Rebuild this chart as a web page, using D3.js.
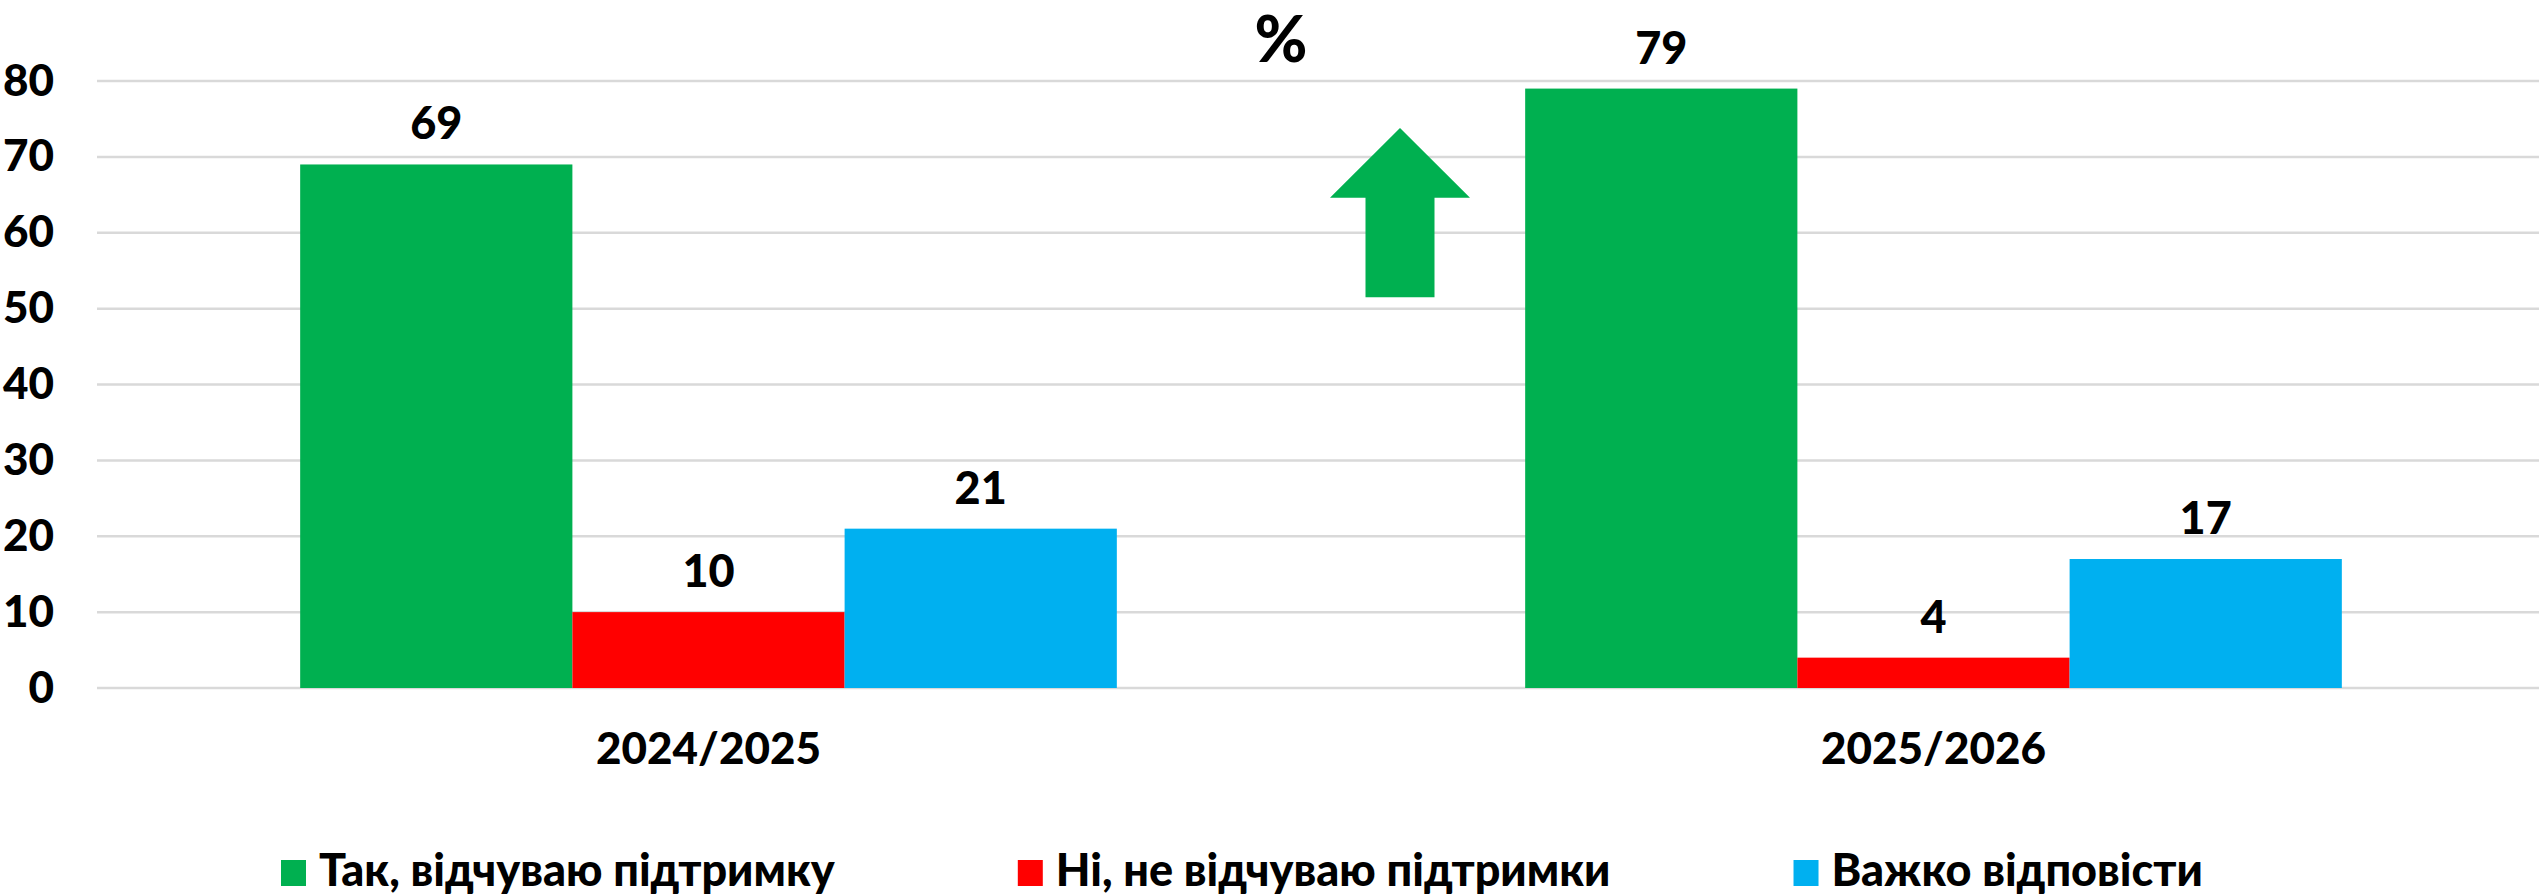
<!DOCTYPE html>
<html lang="uk">
<head>
  <title>Відчуття підтримки</title>
  <script src="https://d3js.org/d3.v7.min.js" charset="utf-8"></script>
  <style>
    body { margin: 0; background: #fff; }
    text { font-family: Lato, "Open Sans", sans-serif; font-weight: 900; fill: #000; }
  </style>
</head>
<body>
<script>
  // data
  var years = ["2024/2025", "2025/2026"]
  var seriesNames = ["Так, відчуваю підтримку", "Ні, не відчуваю підтримки", "Важко відповісти"]
  var seriesColors = ["#00b050", "#ff0000", "#00b0f0"]
  var yesValues = [69, 79]
  var noValues = [10, 4]
  var hardValues = [21, 17]
  var yTicks = [0, 10, 20, 30, 40, 50, 60, 70, 80]
  var unitLabel = "%"
  // up arrow annotation, in value units (tip, head base, tail)
  var arrowLevels = [73.8, 64.6, 51.5]

  var width = 2539
  var height = 896
  var margin = {left: 96, right: -7, top: 81, bottom: 208}

  var svg = d3.select("body")
      .append("svg")
      .attr("width", width)
      .attr("height", height)

  var x0 = d3.scaleBand()
      .domain(years)
      .range([margin.left, width - margin.right])

  var x1 = d3.scaleBand()
      .domain(seriesNames)
      .range([0, x0.bandwidth()])
      .paddingOuter(0.75)

  var y = d3.scaleLinear()
      .domain([0, 80])
      .range([height - margin.bottom, margin.top])

  var color = d3.scaleOrdinal().domain(seriesNames).range(seriesColors)

  // gridlines
  svg.append("g")
      .selectAll("line")
      .data(yTicks)
      .enter().append("line")
      .attr("x1", margin.left + 1)
      .attr("x2", width)
      .attr("y1", function(d) { return y(d); })
      .attr("y2", function(d) { return y(d); })
      .attr("stroke", "#d9d9d9")
      .attr("stroke-width", 2.5)

  // y axis labels
  var yAxis = svg.append("g")
      .attr("transform", "translate(54,0)")
      .call(d3.axisLeft(y).tickValues(yTicks).tickSize(0).tickPadding(0))
  yAxis.select(".domain").remove()
  yAxis.selectAll("text")
      .attr("font-size", 44)
      .attr("font-family", null)

  var rows = years.map(function(yr, i) {
    return {year: yr, values: [yesValues[i], noValues[i], hardValues[i]]}
  })

  var groups = svg.append("g")
      .selectAll("g")
      .data(rows)
      .enter().append("g")
      .attr("transform", function(d) { return "translate(" + x0(d.year) + ",0)"; })

  groups.selectAll("rect")
      .data(function(d) { return d.values.map(function(v, j) { return {name: seriesNames[j], value: v}; }); })
      .enter().append("rect")
      .attr("x", function(d) { return x1(d.name); })
      .attr("width", x1.bandwidth())
      .attr("y", function(d) { return y(d.value); })
      .attr("height", function(d) { return y(0) - y(d.value); })
      .attr("fill", function(d) { return color(d.name); })

  groups.selectAll(".lbl")
      .data(function(d) { return d.values.map(function(v, j) { return {name: seriesNames[j], value: v}; }); })
      .enter().append("text")
      .attr("class", "lbl")
      .attr("x", function(d) { return x1(d.name) + x1.bandwidth() / 2; })
      .attr("y", function(d) { return y(d.value) - 25; })
      .attr("text-anchor", "middle")
      .attr("font-size", 45)
      .text(function(d) { return d.value; })

  // category axis
  var xAxis = svg.append("g")
      .attr("transform", "translate(0," + (y(0) + 45) + ")")
      .call(d3.axisBottom(x0).tickSize(0).tickPadding(0))
  xAxis.select(".domain").remove()
  xAxis.selectAll("text")
      .attr("font-size", 44)
      .attr("font-family", null)
      .attr("dy", "0.71em")

  // percent sign
  svg.append("text")
      .attr("x", (x0(years[0]) + x0(years[1]) + x0.bandwidth()) / 2 - 40)
      .attr("y", 62)
      .attr("text-anchor", "middle")
      .attr("font-size", 64)
      .text(unitLabel)

  // green arrow between the groups
  var ax = x0(years[1]) + 79
  var headHalf = 70
  var shaftHalf = 34.5
  var arrowPts = [
    [ax, y(arrowLevels[0])],
    [ax + headHalf, y(arrowLevels[1])],
    [ax + shaftHalf, y(arrowLevels[1])],
    [ax + shaftHalf, y(arrowLevels[2])],
    [ax - shaftHalf, y(arrowLevels[2])],
    [ax - shaftHalf, y(arrowLevels[1])],
    [ax - headHalf, y(arrowLevels[1])]
  ]
  svg.append("path")
      .attr("d", d3.line()(arrowPts) + "Z")
      .attr("fill", seriesColors[0])

  // legend
  var legend = svg.append("g")
      .attr("transform", "translate(281,886)")
  var lx = 0
  seriesNames.forEach(function(name, i) {
    var item = legend.append("g").attr("transform", "translate(" + lx + ",0)")
    item.append("rect")
        .attr("x", 0)
        .attr("y", -26)
        .attr("width", 25)
        .attr("height", 26)
        .attr("fill", seriesColors[i])
    var t = item.append("text")
        .attr("x", 38)
        .attr("y", 0)
        .attr("font-size", 45)
        .text(name)
    lx += 38 + t.node().getComputedTextLength() + 183
  })
</script>
</body>
</html>
